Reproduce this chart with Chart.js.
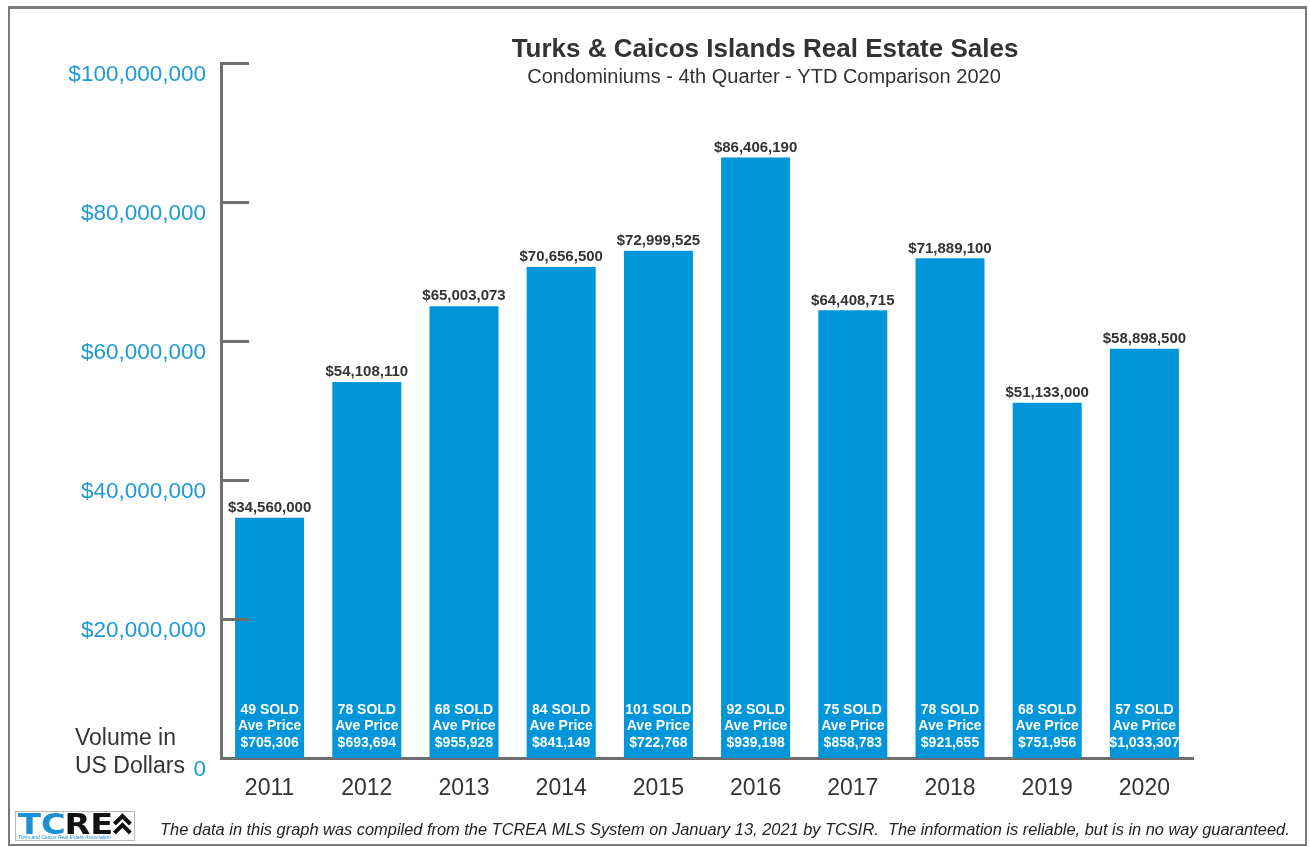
<!DOCTYPE html>
<html>
<head>
<meta charset="utf-8">
<title>Turks & Caicos Islands Real Estate Sales</title>
<script src="https://cdn.jsdelivr.net/npm/chart.js@4.4.0/dist/chart.umd.min.js"></script>
<style>
    html, body { margin: 0; padding: 0; background: #fff; }
    canvas { display: block; }
</style>
</head>
<body>
<canvas id="condoSales" width="1310" height="847"></canvas>
<script>
const years = ['2011', '2012', '2013', '2014', '2015', '2016', '2017', '2018', '2019', '2020'];
const volumes = [34560000, 54108110, 65003073, 70656500, 72999525, 86406190, 64408715, 71889100, 51133000, 58898500];
const unitsSold = [49, 78, 68, 84, 101, 92, 75, 78, 68, 57];
const avgPrices = [705306, 693694, 955928, 841149, 722768, 939198, 858783, 921655, 751956, 1033307];
const yMax = 100000000;
const yStep = 20000000;

const titleText = 'Turks & Caicos Islands Real Estate Sales';
const subtitleText = 'Condominiums - 4th Quarter - YTD Comparison 2020';
const footerText = 'The data in this graph was compiled from the TCREA MLS System on January 13, 2021 by TCSIR.  The information is reliable, but is in no way guaranteed.';

const FONT = '"Liberation Sans", Arial, sans-serif';
const BAR_BLUE = 'rgb(0, 150, 217)';
const TICK_BLUE = 'rgb(30, 154, 214)';
const AXIS_GRAY = '#6e6e6e';
const TEXT_DARK = '#333333';

function dollars(n) {
    return '$' + n.toLocaleString('en-US');
}

// frame, headings, axis caption and the footer with the logo
const decorations = {
    id: 'decorations',
    beforeDraw(chart) {
        const ctx = chart.ctx;
        ctx.save();
        ctx.fillStyle = '#fff';
        ctx.fillRect(0, 0, chart.width, chart.height);

        ctx.strokeStyle = '#7a7a7a';
        ctx.lineWidth = 2;
        ctx.strokeRect(9, 8, 1297, 837);
        ctx.fillStyle = '#7a7a7a';
        ctx.fillRect(8, 6, 1299, 3);

        ctx.textAlign = 'center';
        ctx.textBaseline = 'middle';
        ctx.fillStyle = TEXT_DARK;
        ctx.font = 'bold 26px ' + FONT;
        ctx.fillText(titleText, 765, 50);
        ctx.font = '20px ' + FONT;
        ctx.fillText(subtitleText, 764, 77);

        ctx.textAlign = 'left';
        ctx.font = '23px ' + FONT;
        ctx.fillText('Volume in', 75, 739);
        ctx.fillText('US Dollars', 75, 767);

        ctx.font = 'italic 16.4px ' + FONT;
        ctx.fillStyle = '#222';
        ctx.fillText(footerText, 160, 830);

        // TCREA logo
        ctx.strokeStyle = '#b8b8b8';
        ctx.lineWidth = 1;
        ctx.strokeRect(15.5, 811.5, 119, 29);
        ctx.save();
        ctx.translate(18, 834);
        ctx.scale(1.2, 1);
        ctx.font = 'bold 28px "DejaVu Sans", ' + FONT;
        ctx.textBaseline = 'alphabetic';
        ctx.fillStyle = '#1a8fd2';
        ctx.fillText('TC', 0, 0);
        const tcW = ctx.measureText('TC').width;
        ctx.fillStyle = '#111';
        ctx.fillText('RE', tcW - 1, 0);
        const reW = ctx.measureText('RE').width;
        ctx.restore();
        const cx = Math.min(18 + (tcW + reW) * 1.2 + 8, 124);
        ctx.strokeStyle = '#111';
        ctx.lineWidth = 4;
        ctx.beginPath();
        ctx.moveTo(cx - 8, 824); ctx.lineTo(cx, 816); ctx.lineTo(cx + 8, 824);
        ctx.moveTo(cx - 8, 833); ctx.lineTo(cx, 825); ctx.lineTo(cx + 8, 833);
        ctx.stroke();
        ctx.font = 'italic 5px ' + FONT;
        ctx.textBaseline = 'alphabetic';
        ctx.fillStyle = '#1a8fd2';
        ctx.fillText('Turks and Caicos Real Estate Association', 18, 839);
        ctx.restore();
    },
    afterDatasetsDraw(chart) {
        const ctx = chart.ctx;
        const yScale = chart.scales.y;
        const left = chart.chartArea.left;
        ctx.save();

        // inward tick marks on the value axis
        ctx.strokeStyle = AXIS_GRAY;
        ctx.lineWidth = 3;
        yScale.ticks.forEach(t => {
            if (t.value === 0) return;
            const y = Math.round(yScale.getPixelForValue(t.value)) + 0.5;
            ctx.beginPath();
            ctx.moveTo(left, y);
            ctx.lineTo(left + 28, y);
            ctx.stroke();
        });

        const meta = chart.getDatasetMeta(0);
        ctx.textAlign = 'center';
        ctx.textBaseline = 'middle';
        meta.data.forEach((bar, i) => {
            ctx.fillStyle = TEXT_DARK;
            ctx.font = 'bold 15px ' + FONT;
            ctx.fillText(dollars(volumes[i]), bar.x, bar.y - 10);

            ctx.save();
            ctx.beginPath();
            ctx.rect(bar.x - bar.width / 2, bar.y, bar.width, bar.base - bar.y);
            ctx.clip();
            ctx.fillStyle = '#fff';
            ctx.font = 'bold 14px ' + FONT;
            ctx.fillText(unitsSold[i] + ' SOLD', bar.x, bar.base - 48);
            ctx.fillText('Ave Price', bar.x, bar.base - 32);
            ctx.fillText(dollars(avgPrices[i]), bar.x, bar.base - 15);
            ctx.restore();
        });
        ctx.restore();
    }
};

const salesData = {
    labels: years,
    datasets: [{
        label: 'Sales Volume',
        data: volumes,
        backgroundColor: BAR_BLUE,
        borderWidth: 0,
        categoryPercentage: 1,
        barPercentage: 0.71,
    }]
};

const salesConfig = {
    type: 'bar',
    data: salesData,
    options: {
        responsive: false,
        animation: false,
        layout: {
            padding: { left: 0, right: 117, top: 63, bottom: 39 }
        },
        plugins: {
            legend: { display: false },
            title: { display: false },
            tooltip: { enabled: false }
        },
        scales: {
            x: {
                grid: { display: false, drawTicks: false },
                border: { display: true, color: AXIS_GRAY, width: 3 },
                ticks: {
                    color: TEXT_DARK,
                    padding: 17,
                    font: { family: FONT, size: 23 }
                },
                afterFit(scale) { scale.height = 50; }
            },
            y: {
                min: 0,
                max: yMax,
                grid: { display: false, drawTicks: false },
                border: { display: true, color: AXIS_GRAY, width: 3 },
                ticks: {
                    stepSize: yStep,
                    color: TICK_BLUE,
                    padding: 15,
                    labelOffset: 12,
                    font: { family: FONT, size: 22.5 },
                    callback: v => v === 0 ? '0' : dollars(v)
                },
                afterFit(scale) { scale.width = 221; }
            }
        }
    },
    plugins: [decorations]
};

const condoSalesChart = new Chart(
    document.getElementById('condoSales'),
    salesConfig
);
</script>
</body>
</html>
